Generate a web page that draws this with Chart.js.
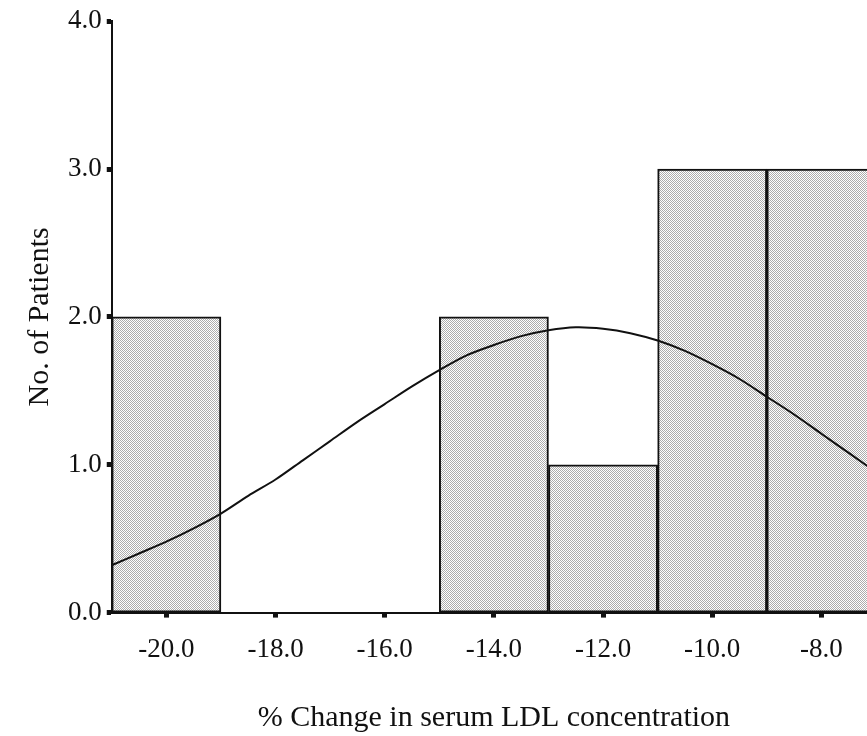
<!DOCTYPE html>
<html>
<head>
<meta charset="utf-8">
<script src="https://cdn.jsdelivr.net/npm/chart.js@4.4.1/dist/chart.umd.min.js"></script>
<style>
    html, body { margin: 0; padding: 0; background: #fff; overflow: hidden; }
    #wrap { position: relative; width: 880px; height: 736px; }
</style>
</head>
<body>
<div id="wrap"><canvas id="ldlChart"></canvas></div>
<script>
// === LDL CHANGE HISTOGRAM ===

// bin centres (width 2.0) and patient counts
const binCentres = [-20, -18, -16, -14, -12, -10, -8];
const patientCounts = [2, 0, 0, 2, 1, 3, 3];

// fitted normal curve, read at 0.5 steps
const curveX = [-21, -20.5, -20, -19.5, -19, -18.5, -18, -17.5, -17, -16.5, -16, -15.5, -15, -14.5,
                -14, -13.5, -13, -12.5, -12, -11.5, -11, -10.5, -10, -9.5, -9, -8.5, -8, -7.5, -7];
const curveY = [0.32, 0.40, 0.48, 0.57, 0.67, 0.79, 0.90, 1.03, 1.16, 1.29, 1.41, 1.53, 1.64, 1.74,
                1.81, 1.87, 1.91, 1.93, 1.92, 1.89, 1.84, 1.77, 1.68, 1.58, 1.46, 1.34, 1.21, 1.08, 0.95];

const xTicks = [-20, -18, -16, -14, -12, -10, -8];
const yTicks = [0, 1, 2, 3, 4];

const FONT = "'Liberation Serif', 'Times New Roman', serif";
const INK = '#111';

// fine grey dither used as bar fill
function ditherPattern() {
    const c = document.createElement('canvas');
    c.width = 2; c.height = 2;
    const g = c.getContext('2d');
    g.fillStyle = '#fff';
    g.fillRect(0, 0, 2, 2);
    g.fillStyle = '#acacac';
    g.fillRect(0, 0, 1, 1);
    g.fillRect(1, 1, 1, 1);
    return g.createPattern(c, 'repeat');
}

const ctx = document.getElementById('ldlChart').getContext('2d');
const fill = ditherPattern();

new Chart(ctx, {
    data: {
        datasets: [
            {
                type: 'line',
                data: curveX.map((x, i) => ({ x, y: curveY[i] })),
                borderColor: INK,
                borderWidth: 2,
                pointRadius: 0,
                tension: 0.3,
                fill: false,
                order: 0
            },
            {
                type: 'bar',
                data: binCentres.map((x, i) => ({ x, y: patientCounts[i] || null })),
                backgroundColor: fill,
                borderColor: INK,
                borderWidth: 2,
                borderSkipped: false,
                barPercentage: 1,
                categoryPercentage: 1,
                order: 1
            }
        ]
    },
    options: {
        responsive: true, maintainAspectRatio: false, animation: false,
        layout: { padding: { top: 20, right: 4, left: 22, bottom: 0 } },
        plugins: { legend: { display: false }, tooltip: { enabled: false } },
        scales: {
            x: {
                type: 'linear', min: -21, max: -7, offset: false,
                afterBuildTicks: s => { s.ticks = xTicks.map(v => ({ value: v })); },
                border: { display: true, color: INK, width: 2 },
                grid: { offset: false, drawOnChartArea: false, drawTicks: true, tickLength: 5, tickWidth: 5, tickColor: INK },
                ticks: { color: INK, padding: 16, font: { family: FONT, size: 27 }, callback: v => v.toFixed(1) },
                title: { display: true, text: '% Change in serum LDL concentration', color: INK,
                         font: { family: FONT, size: 30 }, padding: { top: 18, bottom: 0 } }
            },
            y: {
                min: 0, max: 4,
                afterBuildTicks: s => { s.ticks = yTicks.map(v => ({ value: v })); },
                border: { display: true, color: INK, width: 2 },
                grid: { drawOnChartArea: false, drawTicks: true, tickLength: 5, tickWidth: 5, tickColor: INK },
                ticks: { color: INK, padding: 5, font: { family: FONT, size: 27 }, callback: v => v.toFixed(1) },
                title: { display: true, text: 'No. of Patients', color: INK,
                         font: { family: FONT, size: 30 }, padding: { top: 0, bottom: 5 } }
            }
        }
    }
});
</script>
</body>
</html>
